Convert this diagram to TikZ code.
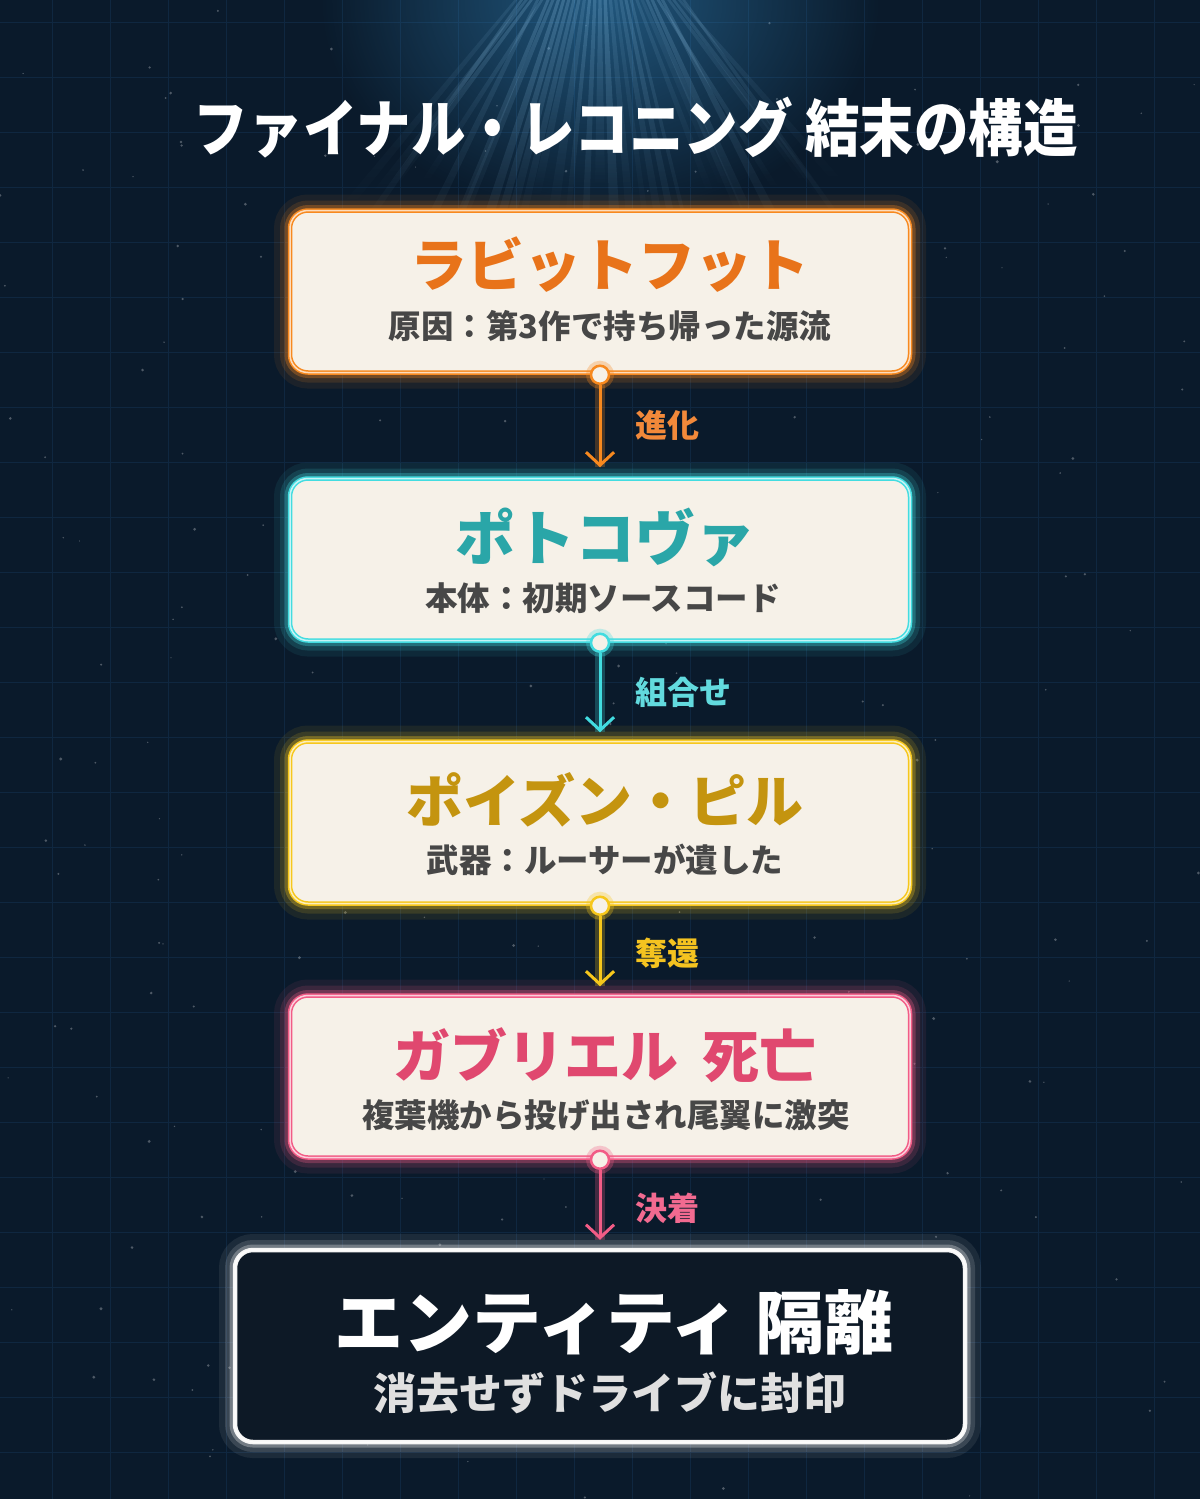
\documentclass[tikz,border=0pt]{standalone}
\usepackage{fontspec}
\setmainfont{Noto Sans CJK JP}
\usetikzlibrary{arrows.meta,fadings}
\tikzfading[name=raydown, top color=transparent!0, bottom color=transparent!100]
\tikzfading[name=softc, inner color=transparent!20, outer color=transparent!100]
\definecolor{bg}{HTML}{0A1A2B}
\definecolor{gridc}{HTML}{0F2740}
\definecolor{cream}{HTML}{F6F1E8}
\definecolor{darkfill}{HTML}{0D1926}
\definecolor{corange}{HTML}{F7891F}
\definecolor{ccyan}{HTML}{42DCE0}
\definecolor{cyellow}{HTML}{F6C71C}
\definecolor{cpink}{HTML}{F25C86}
\definecolor{cwhite}{HTML}{F6F6F6}
\definecolor{torange}{HTML}{E8731A}
\definecolor{tcyan}{HTML}{2AA6A8}
\definecolor{tyellow}{HTML}{C4940F}
\definecolor{tpink}{HTML}{E0486F}
\definecolor{lorange}{HTML}{F2893A}
\definecolor{lcyan}{HTML}{62DADE}
\definecolor{lyellow}{HTML}{F4C320}
\definecolor{lpink}{HTML}{F26A90}
\definecolor{subtxt}{HTML}{474747}
\definecolor{ray}{HTML}{3A9AD8}
\tikzset{
  box/.style={rectangle, rounded corners=18pt, minimum width=620pt, minimum height=162pt,
    fill=cream, draw=#1, line width=4.5pt, inner sep=0pt,
    preaction={draw=#1, draw opacity=0.08, line width=32pt},
    preaction={draw=#1, draw opacity=0.14, line width=20pt},
    preaction={draw=#1, draw opacity=0.3, line width=11pt},
    postaction={draw=#1!30!white, line width=1.5pt}},
  dot/.style={circle, minimum size=18pt, inner sep=0pt, fill=cream, draw=#1, line width=2.5pt,
    preaction={draw=#1, draw opacity=0.3, line width=10pt}},
  conn/.style={draw=#1, line width=3pt, -{Straight Barb[length=13pt,width=28pt]},
    preaction={-, draw=#1, draw opacity=0.25, line width=10pt}},
  btitle/.style={font=\fontsize{57}{62}\selectfont\bfseries, text=#1},
  bsub/.style={font=\fontsize{32.5}{36}\selectfont\bfseries, text=subtxt},
  lbl/.style={font=\fontsize{32}{36}\selectfont\bfseries, text=#1, anchor=west},
}
\begin{document}
\begin{tikzpicture}[x=1pt,y=-1pt]
\useasboundingbox (0,0) rectangle (1200,1499);
\fill[bg] (0,0) rectangle (1200,1499);
% grid
\foreach \x in {52,110,...,1200} \draw[gridc, line width=1pt] (\x,0) -- (\x,1499);
\foreach \y in {22,77,...,1499} \draw[gridc, line width=1pt] (0,\y) -- (1200,\y);
% stars
\pgfmathsetseed{7}
\foreach \i in {1,...,220}{
  \pgfmathsetmacro\sx{rnd*1200}
  \pgfmathsetmacro\sy{rnd*1499}
  \pgfmathsetmacro\sr{0.6+rnd*1.0}
  \fill[white, opacity=0.28] (\sx,\sy) circle[radius=\sr];
}
% light glow and rays
\fill[ray, path fading=softc, fill opacity=0.6] (600,0) ellipse[x radius=280, y radius=220];
\pgfmathsetseed{3}
\foreach \i in {-16,...,16}{
  \pgfmathsetmacro\op{0.10+0.16*rnd}
  \pgfmathsetmacro\ln{180+90*rnd}
  \pgfmathsetmacro\w{2+4*rnd}
  \fill[ray!55!white, path fading=raydown, fill opacity=\op]
    (600+\i*5-1.5,-5) -- (600+\i*5+1.5,-5) -- (600+\i*16+\w,\ln) -- (600+\i*16-\w,\ln) -- cycle;
}
% title
\node[font=\fontsize{62}{70}\selectfont\bfseries, text=white, xscale=0.88] (title) at (636,128)
  {ファイナル・レコニング\hspace{14pt}結末の構造};
% boxes
\node[box=corange] (b1) at (600,291.5) {};
\node[box=ccyan]   (b2) at (600,559.5) {};
\node[box=cyellow] (b3) at (600,822.5) {};
\node[box=cpink]   (b4) at (600,1076.5) {};
\node[box=cwhite, fill=darkfill, minimum width=730pt, minimum height=192pt] (b5) at (600,1346) {};
% box texts
\node[btitle=torange] (t1) at (610,265) {ラビットフット};
\node[bsub] (s1) at (610,326) {原因：第3作で持ち帰った源流};
\node[btitle=tcyan, font=\fontsize{60}{64}\selectfont\bfseries] (t2) at (605,537) {ポトコヴァ};
\node[bsub] (s2) at (603,598) {本体：初期ソースコード};
\node[btitle=tyellow] (t3) at (605,800) {ポイズン・ピル};
\node[bsub] (s3) at (605,860) {武器：ルーサーが遺した};
\node[btitle=tpink] (t4) at (605,1055) {ガブリエル\hspace{24pt}死亡};
\node[bsub] (s4) at (606,1115) {複葉機から投げ出され尾翼に激突};
\node[font=\fontsize{69}{74}\selectfont\bfseries, text=white] (t5) at (614,1322) {エンティティ\hspace{16pt}隔離};
\node[font=\fontsize{43}{48}\selectfont\bfseries, text=white!88!black] (s5) at (610,1393) {消去せずドライブに封印};
% connectors
\node[dot=corange] (d1) at (b1.south) {};
\node[dot=ccyan]   (d2) at (b2.south) {};
\node[dot=cyellow] (d3) at (b3.south) {};
\node[dot=cpink]   (d4) at (b4.south) {};
\draw[conn=corange] (d1) -- ([yshift=9pt]b2.north);
\draw[conn=ccyan]   (d2) -- ([yshift=7pt]b3.north);
\draw[conn=cyellow] (d3) -- ([yshift=7pt]b4.north);
\draw[conn=cpink]   (d4) -- ([yshift=8pt]b5.north);
\node[lbl=lorange] (l1) at (632,425) {進化};
\node[lbl=lcyan]   (l2) at (632,692) {組合せ};
\node[lbl=lyellow] (l3) at (632,953) {奪還};
\node[lbl=lpink]   (l4) at (632,1208) {決着};
\end{tikzpicture}
\end{document}
